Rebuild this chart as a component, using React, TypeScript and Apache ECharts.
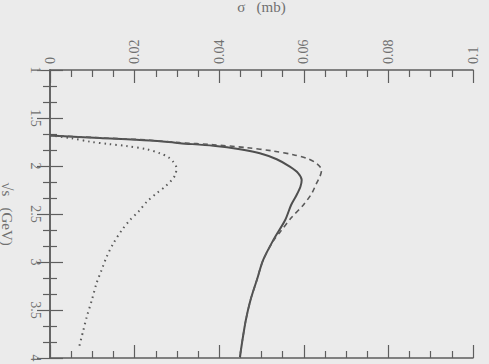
import React, { useEffect, useRef } from "react";
import * as echarts from "echarts";

// √s (GeV) and σ (mb) for each curve
const solidS = [1.682, 1.708, 1.734, 1.762, 1.79, 1.826, 1.868, 1.93, 2.007, 2.076, 2.146, 2.216, 2.302, 2.406, 2.5625, 2.771, 2.979, 3.1875, 3.396, 3.604, 3.8125, 3.99];
const solidSigma = [0, 0.0118, 0.0236, 0.0307, 0.0386, 0.0449, 0.0496, 0.0536, 0.0567, 0.0587, 0.0595, 0.0592, 0.0583, 0.057, 0.0556, 0.0528, 0.0504, 0.0489, 0.0474, 0.0463, 0.0455, 0.0449];

const dashedS = [1.682, 1.706, 1.731, 1.757, 1.778, 1.809, 1.844, 1.882, 1.92, 1.972, 2.042, 2.111, 2.18, 2.284, 2.406, 2.531, 2.6875, 2.78, 2.979, 3.1875, 3.396, 3.604, 3.8125, 3.99];
const dashedSigma = [0, 0.0118, 0.0236, 0.0307, 0.0386, 0.0465, 0.0528, 0.0575, 0.0607, 0.063, 0.0642, 0.0638, 0.063, 0.0619, 0.0599, 0.0572, 0.0544, 0.0528, 0.0504, 0.0489, 0.0474, 0.0463, 0.0455, 0.0449];

const dottedS = [1.682, 1.711, 1.747, 1.771, 1.792, 1.826, 1.868, 1.909, 1.955, 2.021, 2.094, 2.146, 2.216, 2.284, 2.372, 2.476, 2.5625, 2.667, 2.805, 2.945, 3.083, 3.222, 3.396, 3.57, 3.708, 3.882];
const dottedSigma = [0, 0.0051, 0.0095, 0.0138, 0.0181, 0.0229, 0.026, 0.028, 0.0291, 0.0299, 0.0296, 0.0288, 0.0272, 0.0252, 0.0229, 0.0209, 0.0189, 0.017, 0.015, 0.0134, 0.0122, 0.011, 0.0099, 0.0087, 0.0079, 0.0069];

const sigmaTicks = { min: 0, max: 0.1, interval: 0.02 };
const sTicks = { min: 1, max: 4, interval: 0.5 };

const FONT = "Liberation Serif";
const INK = "#5e5e5e";
const TEXT = "#707070";

const pairs = (xs: number[], ys: number[]) => xs.map((s, i) => [ys[i], s]);

export default function App() {
  const ref = useRef<HTMLDivElement>(null);
  useEffect(() => {
    if (!ref.current) return;
    const chart = echarts.init(ref.current, null, { renderer: "svg" });
    const axisLine = { show: true, lineStyle: { color: INK, width: 1.5 } };
    const tick = { show: true, inside: true, length: 13, lineStyle: { color: INK, width: 1.2 } };
    const minor = (n: number) => ({ show: true, splitNumber: n, length: 7, lineStyle: { color: INK, width: 1.2 } });
    const labelStyle = { fontFamily: FONT, fontSize: 14, color: TEXT };
    chart.setOption({
      animation: false,
      backgroundColor: "#ebebeb",
      grid: { left: 50, top: 70, right: 16, bottom: 6, containLabel: false, outerBoundsMode: "none" },
      xAxis: [
        {
          type: "value", position: "top", ...sigmaTicks,
          axisLine, axisTick: tick, minorTick: minor(4), splitLine: { show: false },
          axisLabel: { ...labelStyle, rotate: -90, margin: 6 },
          name: "σ   (mb)", nameLocation: "middle", nameGap: 56,
          nameTextStyle: { fontFamily: FONT, fontSize: 15, color: TEXT },
        },
        {
          type: "value", position: "bottom", ...sigmaTicks,
          axisLine, axisTick: tick, minorTick: minor(4), splitLine: { show: false },
          axisLabel: { show: false },
        },
      ],
      yAxis: [
        {
          type: "value", position: "left", inverse: true, ...sTicks,
          axisLine, axisTick: tick, minorTick: minor(3), splitLine: { show: false },
          axisLabel: { ...labelStyle, rotate: -90, margin: 8 },
          name: "√s   (GeV)", nameLocation: "middle", nameGap: 36, nameRotate: -90,
          nameTextStyle: { fontFamily: FONT, fontSize: 15, color: TEXT },
        },
        {
          type: "value", position: "right", inverse: true, ...sTicks,
          axisLine, axisTick: tick, minorTick: minor(3), splitLine: { show: false },
          axisLabel: { show: false },
        },
      ],
      series: [
        {
          type: "line", xAxisIndex: 0, yAxisIndex: 0, data: pairs(solidS, solidSigma),
          showSymbol: false, smooth: 0.3, lineStyle: { color: "#4f4f4f", width: 2 },
        },
        {
          type: "line", xAxisIndex: 0, yAxisIndex: 0, data: pairs(dashedS, dashedSigma),
          showSymbol: false, smooth: 0.3, lineStyle: { color: "#5a5a5a", width: 1.6, type: [5, 4] },
        },
        {
          type: "line", xAxisIndex: 0, yAxisIndex: 0, data: pairs(dottedS, dottedSigma),
          showSymbol: false, smooth: 0.3, lineStyle: { color: "#5a5a5a", width: 2, type: [1.5, 4] },
        },
      ],
    });
    return () => chart.dispose();
  }, []);
  return <div ref={ref} style={{ position: "fixed", left: 0, top: 0, width: 489, height: 364 }} />;
}
